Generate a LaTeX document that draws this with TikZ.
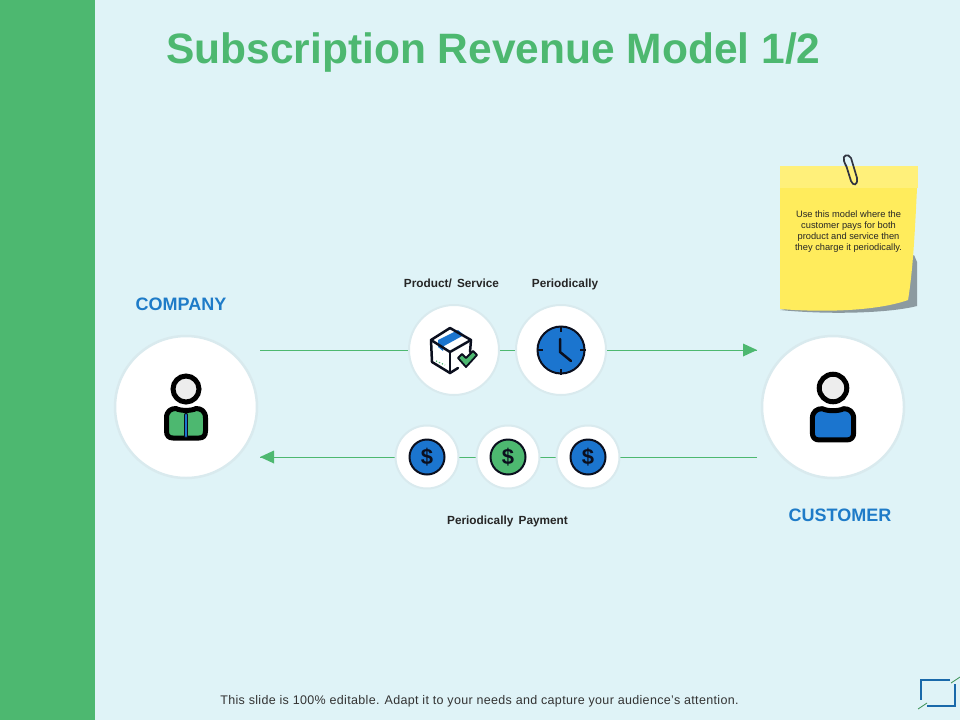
\documentclass[tikz,border=0pt]{standalone}
\usepackage{fontspec}
\usetikzlibrary{calc}
\setmainfont{Liberation Sans}
\definecolor{slidebg}{HTML}{DFF3F7}
\definecolor{slidegreen}{HTML}{4DB870}
\definecolor{iconblue}{HTML}{1B75CF}
\definecolor{labelblue}{HTML}{1E7BC8}
\definecolor{noteyellow}{HTML}{FFEC5C}
\definecolor{notetop}{HTML}{FFF07A}
\definecolor{noteshadow}{HTML}{8C9AA0}
\definecolor{halo}{HTML}{D9EAEE}
\definecolor{inkdark}{HTML}{0B0F1E}
\begin{document}
\begin{tikzpicture}[x=1pt,y=-1pt,
    bigdisc/.style={circle,fill=white,draw=halo,line width=2.5pt,minimum size=142pt,inner sep=0pt},
    middisc/.style={circle,fill=white,draw=halo,line width=2pt,minimum size=90pt,inner sep=0pt},
    smalldisc/.style={circle,fill=white,draw=halo,line width=2pt,minimum size=63pt,inner sep=0pt},
    coin/.style={circle,draw=inkdark,line width=2pt,minimum size=35pt,inner sep=0pt,text=inkdark,font=\fontsize{22}{22}\selectfont\bfseries},
    flow/.style={slidegreen,line width=0.8pt},
    tiplabel/.style={anchor=base,font=\fontsize{11.8}{13}\selectfont\bfseries,text=black!85},
    role/.style={anchor=base,font=\fontsize{18}{20}\selectfont\bfseries,text=labelblue},
    icon/.style={draw=inkdark,line width=2.5pt,line join=round,line cap=round},
    person/.pic={
      \draw[draw=black,line width=5pt,fill=black!7] (0,0) circle (13);
      \draw[draw=black,line width=5pt,line join=round,pic actions]
        (-19.5,29) .. controls (-19.5,22) and (-15,19.5) .. (-10,19.5)
        .. controls (-6,22) and (6,22) .. (10,19.5)
        .. controls (15,19.5) and (19.5,22) .. (19.5,29)
        -- (19.5,42) .. controls (19.5,47) and (17,49) .. (13,49)
        -- (-13,49) .. controls (-17,49) and (-19.5,47) .. (-19.5,42) -- cycle;
    }]
  \useasboundingbox (0,0) rectangle (960,720);
  \fill[slidebg] (0,0) rectangle (960,720);
  \fill[slidegreen] (0,0) rectangle (95,720);
  \node[anchor=base,text=slidegreen,font=\fontsize{42.5}{46}\selectfont\bfseries] (title) at (493.5,63) {Subscription Revenue Model 1/2};

  % arrows go under the discs
  \coordinate (topstart) at (260,350);
  \coordinate (topend) at (757,350);
  \coordinate (botstart) at (757,457);
  \coordinate (botend) at (260,457);
  \draw[flow] (topstart) -- (topend);
  \draw[flow] (botstart) -- (botend);
  \fill[slidegreen] (topend) -- ++(-14,-6.5) -- ++(0,13) -- cycle;
  \fill[slidegreen] (botend) -- ++(14,-6.5) -- ++(0,13) -- cycle;

  \node[bigdisc] (company) at (186,407) {};
  \node[bigdisc] (customer) at (833,407) {};
  \node[middisc] (product) at (454,350) {};
  \node[middisc] (clock) at (561,350) {};
  \node[smalldisc] (payone) at (427,457) {};
  \node[smalldisc] (paytwo) at (508,457) {};
  \node[smalldisc] (paythree) at (588,457) {};

  \node[role] (companylabel) at (181,310) {COMPANY};
  \node[role] (customerlabel) at (840,521) {CUSTOMER};
  \node[tiplabel] (productlabel) at (451.5,287) {Product/\, Service};
  \node[tiplabel] (clocklabel) at (565,287) {Periodically};
  \node[tiplabel] (paylabel) at (507.5,524) {Periodically\, Payment};

  % people
  \pic[fill=slidegreen] at (186,389) {person};
  \draw[inkdark,line width=4.5pt,line cap=round] (186,415) -- (186,436);
  \draw[iconblue,line width=2.5pt,line cap=round] (186,415) -- (186,436);
  \pic[fill=iconblue,scale=1.06] at (833,388) {person};

  % coins
  \node[coin,fill=iconblue] (coinone) at (427,457) {\$};
  \node[coin,fill=slidegreen] (cointwo) at (508,457) {\$};
  \node[coin,fill=iconblue] (cointhree) at (588,457) {\$};

  % clock face
  \node[circle,fill=iconblue,draw=inkdark,line width=2pt,minimum size=47pt,inner sep=0pt] (face) at (561,350) {};
  \foreach \a in {0,90,180,270}
    \draw[inkdark,line width=1.5pt] (face.\a) -- ($(face.\a)!6pt!(face.center)$);
  \draw[icon] (560,339) -- (560,352) -- (571,361);

  % box with tick
  \fill[white] (450,328) -- (471,340) -- (470,362) -- (450,373) -- (432,362) -- (431,340) -- cycle;
  \fill[iconblue] (438,340) -- (458,330) -- (464,335) -- (444,346) -- (443,351) -- (438,347) -- cycle;
  \draw[icon] (450,328) -- (471,340) -- (470,352);
  \draw[icon] (450,328) -- (431,340) -- (432,362) -- (450,373) -- (458,368);
  \draw[icon] (431,340) -- (450,352) -- (471,340);
  \draw[icon] (450,352) -- (450,373);
  \draw[slidegreen,line width=1.2pt,dotted] (436,361) -- (445,365);
  \fill[slidegreen,draw=inkdark,line width=1.8pt,line join=round] (458,358) -- (462,354) -- (466,358) -- (473,351) -- (477,355) -- (466,367) -- cycle;

  % note
  \fill[noteshadow] (914,255) -- (917,262) -- (917,306) .. controls (890,313) and (830,315) .. (780,310) -- (860,295) -- cycle;
  \fill[noteyellow] (780,188) -- (917,188) .. controls (915,230) and (913,270) .. (908,300) .. controls (880,310) and (830,313) .. (780,309) -- cycle;
  \fill[notetop] (780,166) rectangle (918,188);
  \node[align=center,font=\fontsize{9.3}{11}\selectfont,text=black!85] (notetext) at (848.5,231.5) {Use this model where the\\customer pays for both\\product and service then\\they charge it periodically.};
  \draw[inkdark!85,line width=1.7pt,line cap=round] (846,166) -- (844,161) .. controls (842,155) and (848,153) .. (851,158)
    -- (857,178) .. controls (858,186) and (853,186) .. (851,181) -- (846,165);

  % corner mark
  \draw[labelblue!85!black,line width=1.6pt] (927,706) -- (955,706) -- (955,684);
  \draw[labelblue!85!black,line width=1.6pt] (950,680) -- (921,680) -- (921,700);
  \draw[slidegreen!80!black,line width=0.8pt] (918,709) -- (927,703);
  \draw[slidegreen!80!black,line width=0.8pt] (951,683) -- (960,677);

  \node[anchor=base,font=\fontsize{12.5}{14}\addfontfeature{LetterSpace=2.7}\selectfont,text=black!80] (footer) at (479.5,704) {This slide is 100\% editable. Adapt it to your needs and capture your audience's attention.};
\end{tikzpicture}
\end{document}
